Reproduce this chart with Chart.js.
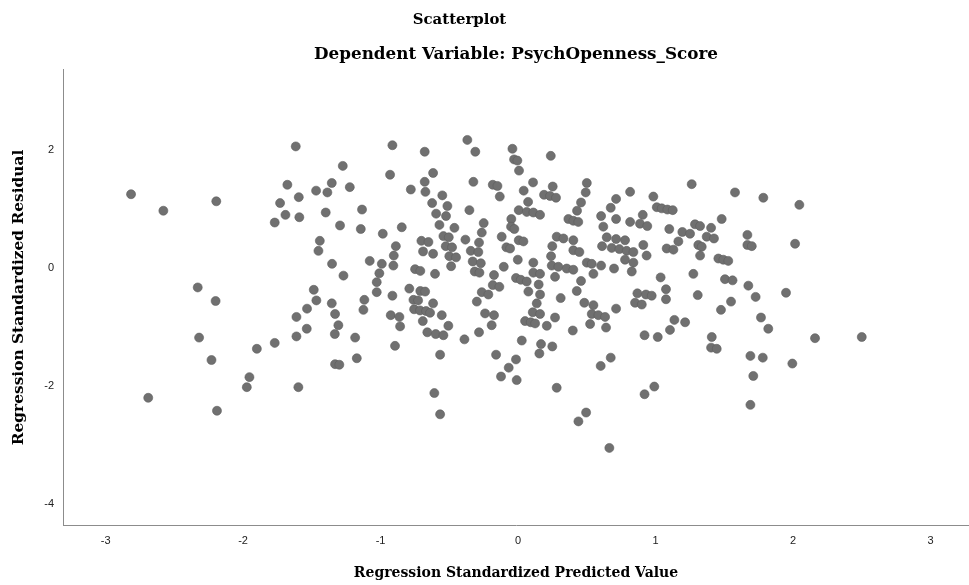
<!DOCTYPE html>
<html>
<head>
<meta charset="utf-8">
<script src="https://cdn.jsdelivr.net/npm/chart.js@4"></script>
<style>
  html, body { margin: 0; padding: 0; background: #ffffff; }
  #wrap { width: 969px; height: 585px; position: relative; }
</style>
</head>
<body>
<div id="wrap"><canvas id="c" width="969" height="585"></canvas></div>
<script>
const chartTitle = "Scatterplot";
const chartSubtitle = "Dependent Variable: PsychOpenness_Score";
const xAxisTitle = "Regression Standardized Predicted Value";
const yAxisTitle = "Regression Standardized Residual";
const xTicks = [-3, -2, -1, 0, 1, 2, 3];
const yTicks = [-4, -2, 0, 2];

const predicted = [
  -2.815,-2.58,-2.195,-2.33,-2.20,-2.32,-2.23,-2.69,-2.19,
  -1.617,-1.275,-1.678,-1.355,-1.469,-1.387,-1.595,-1.731,-1.692,-1.591,-1.770,-1.399,-1.295,-1.442,-1.452,-1.353,-1.27,
  -1.486,-1.467,-1.355,-1.535,-1.331,-1.612,-1.307,-1.537,-1.333,-1.612,-1.770,-1.90,-1.331,-1.30,-1.954,-1.973,-1.598,
  -0.914,-0.679,-0.931,-0.618,-1.224,-0.780,-0.679,-0.674,-0.551,-0.625,-0.596,-1.135,-1.144,-0.846,-0.984,-0.572,-0.543,-0.889,-0.703,-0.652,-0.691,-0.618,-0.904,-1.079,-0.991,-0.907,-1.009,-0.749,-0.711,-0.604,
  -1.028,-1.028,-1.118,-0.914,-0.791,-0.711,-0.676,-0.761,-0.727,-0.618,-1.125,-0.756,-0.713,-0.669,-0.64,-0.555,-0.926,-0.863,-0.858,-0.693,-0.660,-0.599,-0.543,-1.185,-0.895,-0.567,-1.173,-0.609,-0.567,
  -0.369,-0.311,-0.041,-0.029,-0.005,0.007,-0.325,-0.184,-0.150,0.109,-0.133,0.041,0.189,0.073,-0.514,-0.354,0.005,0.063,0.111,0.16,-0.524,-0.463,-0.250,-0.049,-0.264,-0.051,-0.027,-0.504,-0.383,-0.119,-0.284,0.005,0.039,-0.526,-0.48,-0.085,-0.058,-0.344,-0.289,-0.500,-0.451,-0.33,-0.271,-0.002,0.111,-0.104,-0.487,-0.315,-0.281,-0.175,0.111,0.16,
  -0.015,0.02,0.063,0.15,-0.184,-0.136,-0.264,-0.216,0.075,0.16,-0.30,0.136,-0.24,-0.175,0.107,0.16,0.051,0.092,0.124,-0.507,-0.192,-0.284,-0.39,0.027,0.167,-0.16,0.155,-0.015,-0.068,-0.124,-0.01,
  0.238,0.50,0.252,0.815,0.233,0.276,0.492,0.713,0.458,0.674,0.907,0.429,0.604,0.366,0.402,0.438,0.713,0.815,0.887,0.62,0.281,0.33,0.402,0.645,0.713,0.778,0.249,0.611,0.681,0.737,0.79,0.839,0.402,0.446,0.911,0.24,0.778,0.839,0.245,0.293,0.50,0.536,0.604,0.698,0.354,0.402,0.548,0.827,0.269,
  0.458,0.427,0.868,0.93,0.31,0.482,0.548,0.851,0.90,0.713,0.536,0.584,0.633,0.269,0.209,0.524,0.64,0.398,0.92,0.249,0.674,0.601,0.281,0.92,0.495,0.439,0.664,
  1.263,1.578,0.984,1.009,1.045,1.086,1.125,1.481,0.94,1.10,1.287,1.324,1.404,1.195,1.251,1.668,1.372,1.425,1.166,1.311,1.336,1.668,1.081,1.130,0.935,1.324,1.457,1.493,1.529,1.037,1.275,1.505,1.56,
  1.675,1.076,0.972,1.076,1.307,1.549,1.476,1.137,1.215,1.105,1.016,1.409,1.404,1.445,1.69,0.991,1.69,
  1.784,2.046,1.70,2.015,1.728,1.949,1.767,1.82,2.16,1.78,1.995,1.711,2.50
];
const residual = [
  1.25,0.97,1.13,-0.33,-0.56,-1.18,-1.56,-2.20,-2.42,
  2.06,1.73,1.41,1.44,1.31,1.28,1.20,1.10,0.90,0.86,0.77,0.94,0.72,0.46,0.29,0.07,-0.13,
  -0.37,-0.55,-0.60,-0.69,-0.78,-0.83,-0.97,-1.03,-1.12,-1.16,-1.27,-1.37,-1.63,-1.64,-1.85,-2.02,-2.02,
  2.08,1.97,1.58,1.61,1.37,1.33,1.46,1.29,1.23,1.10,0.92,0.99,0.66,0.69,0.58,0.73,0.54,0.37,0.46,0.44,0.28,0.24,0.21,0.12,0.07,0.04,-0.09,-0.02,-0.05,-0.10,
  -0.24,-0.41,-0.54,-0.47,-0.35,-0.39,-0.40,-0.54,-0.55,-0.60,-0.71,-0.70,-0.72,-0.73,-0.76,-0.80,-0.80,-0.83,-0.99,-0.90,-1.09,-1.12,-1.14,-1.18,-1.32,-1.47,-1.53,-2.12,-2.48,
  2.17,1.97,2.02,1.84,1.82,1.65,1.46,1.41,1.39,1.45,1.21,1.31,1.24,1.12,1.05,0.98,0.98,0.95,0.94,0.90,0.88,0.68,0.76,0.83,0.60,0.70,0.66,0.52,0.48,0.53,0.43,0.47,0.45,0.37,0.35,0.35,0.33,0.29,0.27,0.20,0.18,0.11,0.08,0.14,0.09,0.02,0.03,-0.06,-0.08,-0.12,-0.08,-0.10,
  -0.17,-0.20,-0.23,-0.28,-0.29,-0.32,-0.41,-0.45,-0.40,-0.45,-0.57,-0.60,-0.77,-0.80,-0.75,-0.78,-0.90,-0.92,-0.94,-0.98,-0.97,-1.09,-1.21,-1.23,-1.29,-1.47,-1.45,-1.55,-1.69,-1.84,-1.90,
  1.90,1.44,1.38,1.29,1.22,1.19,1.28,1.17,1.11,1.02,0.90,0.97,0.88,0.83,0.80,0.78,0.83,0.78,0.75,0.70,0.53,0.50,0.47,0.52,0.49,0.47,0.37,0.37,0.34,0.32,0.29,0.27,0.30,0.27,0.39,0.20,0.14,0.09,0.04,0.02,0.09,0.07,0.04,-0.01,-0.01,-0.03,-0.10,-0.06,-0.15,
  -0.22,-0.39,-0.43,-0.45,-0.51,-0.59,-0.63,-0.59,-0.62,-0.69,-0.78,-0.80,-0.83,-0.84,-0.98,-0.95,-1.01,-1.06,-1.14,-1.33,-1.52,-1.66,-2.03,-2.14,-2.45,-2.60,-3.05,
  1.42,1.28,1.21,1.03,1.01,0.99,0.98,0.83,0.71,0.66,0.74,0.71,0.68,0.61,0.58,0.56,0.53,0.50,0.45,0.39,0.36,0.39,0.33,0.31,0.21,0.21,0.16,0.14,0.12,-0.16,-0.10,-0.19,-0.21,
  -0.30,-0.36,-0.47,-0.53,-0.46,-0.57,-0.71,-0.88,-0.92,-1.05,-1.17,-1.17,-1.35,-1.37,-1.49,-2.01,-2.32,
  1.19,1.07,0.37,0.41,-0.49,-0.42,-0.84,-1.03,-1.19,-1.52,-1.62,-1.83,-1.17
];

const points = predicted.map((x, i) => ({ x: x, y: residual[i] }));

const serif = "'DejaVu Serif', 'Liberation Serif', serif";
const sans = "'Liberation Sans', Arial, sans-serif";

// shift the main title block so its centre sits where the reference has it
const titleShift = {
  id: 'titleShift',
  afterLayout(chart) {
    const tb = chart.titleBlock;
    if (tb) {
      tb.left = 0;
      tb.right = 919;
      tb.width = 919;
    }
  }
};

new Chart(document.getElementById('c'), {
  type: 'scatter',
  data: {
    datasets: [{
      data: points,
      pointRadius: 4.5,
      pointHoverRadius: 4.5,
      backgroundColor: '#707070',
      borderColor: '#5e5e5e',
      borderWidth: 0.6
    }]
  },
  plugins: [titleShift],
  options: {
    responsive: false,
    animation: false,
    events: [],
    layout: { autoPadding: false, padding: { left: 0, right: 0, top: 0, bottom: 0 } },
    plugins: {
      legend: { display: false },
      tooltip: { enabled: false },
      title: {
        display: true,
        text: chartTitle,
        color: '#000',
        font: { family: serif, size: 14.9, weight: 'bold', lineHeight: 1.2 },
        padding: { top: 11.1, bottom: 0 }
      },
      subtitle: {
        display: true,
        fullSize: false,
        text: chartSubtitle,
        color: '#000',
        font: { family: serif, size: 16.8, weight: 'bold', lineHeight: 1.2 },
        padding: { top: 15.9, bottom: 4.9 }
      }
    },
    scales: {
      x: {
        type: 'linear',
        min: -3.31,
        max: 3.28,
        afterFit: s => { s.height = 60; s.paddingLeft = 0; s.paddingRight = 0; },
        afterBuildTicks: s => { s.ticks = xTicks.map(v => ({ value: v })); },
        grid: { display: true, color: 'rgba(0,0,0,0)', drawTicks: false },
        border: { display: true, color: '#8c8c8c', width: 1 },
        ticks: { color: '#222', font: { family: sans, size: 11 }, padding: 9, maxRotation: 0 },
        title: {
          display: true,
          text: xAxisTitle,
          color: '#000',
          font: { family: serif, size: 14, weight: 'bold' },
          padding: { top: 0, bottom: 3 }
        }
      },
      y: {
        type: 'linear',
        min: -4.356,
        max: 3.356,
        afterFit: s => { s.width = 63; s.paddingTop = 0; s.paddingBottom = 0; },
        afterBuildTicks: s => { s.ticks = yTicks.map(v => ({ value: v })); },
        grid: { display: true, color: 'rgba(0,0,0,0)', drawTicks: false },
        border: { display: true, color: '#8c8c8c', width: 1 },
        ticks: { color: '#222', font: { family: sans, size: 11 }, padding: 9 },
        title: {
          display: true,
          text: yAxisTitle,
          color: '#000',
          font: { family: serif, size: 15.4, weight: 'bold' },
          padding: { top: 9.5, bottom: 0 }
        }
      }
    }
  }
});
</script>
</body>
</html>
